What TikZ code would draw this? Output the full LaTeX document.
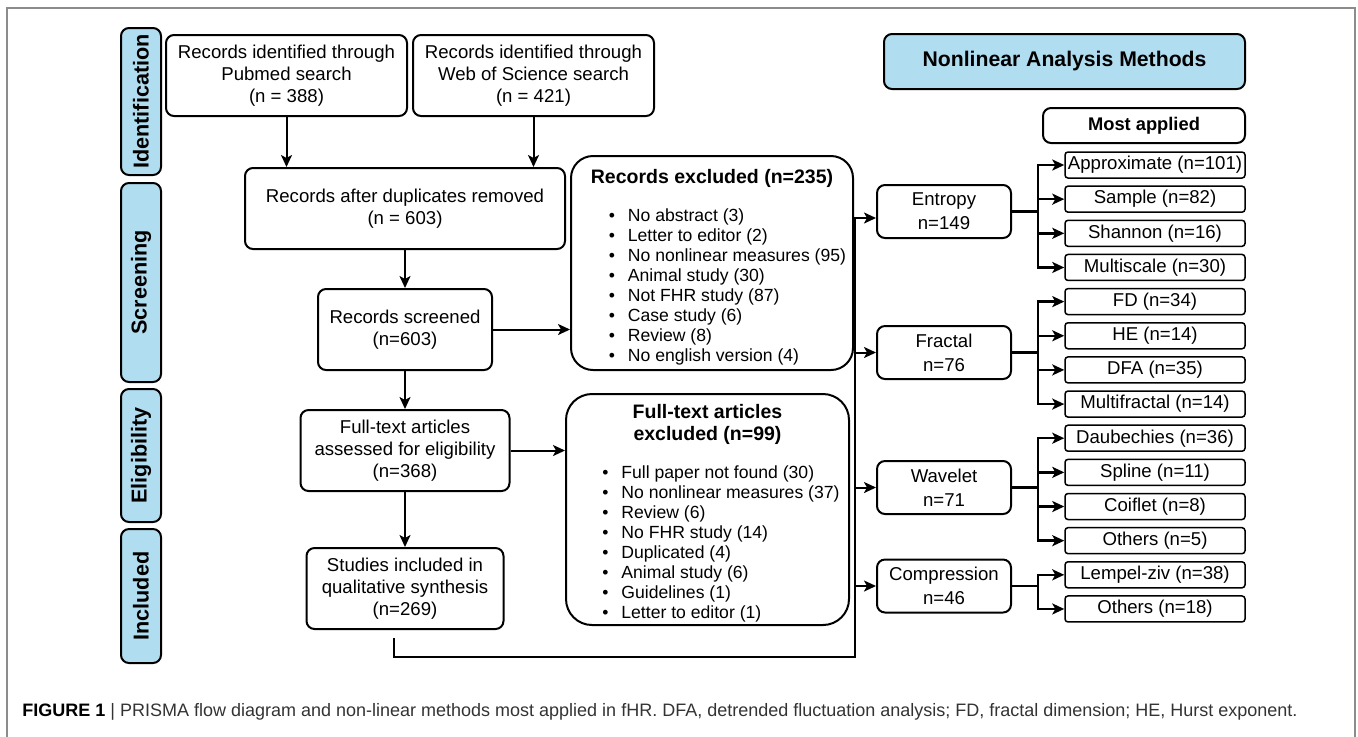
\documentclass[tikz,border=0pt]{standalone}
\usepackage{fontspec}
\setmainfont{Liberation Sans}
\usepackage{tikz}
\usetikzlibrary{arrows.meta,positioning}
\definecolor{phaseblue}{HTML}{B1DDF0}
\tikzstyle{phase}=[draw, fill=phaseblue, line width=1pt, rounded corners=4pt,
  rotate=90, minimum height=20pt, inner sep=0pt,
  font=\fontsize{10.8}{12}\selectfont\bfseries]
\tikzstyle{record}=[draw, line width=1pt, rounded corners=4pt, align=center,
  minimum height=40.5pt, inner sep=0pt, font=\fontsize{9.3}{11}\selectfont]
\tikzstyle{excluded}=[draw, line width=1pt, rounded corners=11pt, align=center,
  inner sep=0pt, font=\fontsize{9.75}{11}\selectfont]
\tikzstyle{method}=[record, minimum width=67pt, minimum height=26.5pt,
  font=\fontsize{9.3}{12}\selectfont]
\tikzstyle{variant}=[draw, line width=0.75pt, rounded corners=1.5pt,
  minimum width=90pt, minimum height=13pt, inner sep=0pt,
  font=\fontsize{9.3}{11}\selectfont]
\tikzstyle{header}=[draw, line width=1pt, rounded corners=4pt, inner sep=0pt]
\tikzstyle{line}=[draw, line width=1pt, -{Stealth[length=6pt,width=5.5pt,inset=1.5pt]}]
\tikzstyle{bus}=[draw, line width=1.25pt]
\tikzstyle{branch}=[bus, -{Stealth[length=6pt,width=5.5pt,inset=1.5pt]}]
\newcommand{\recbox}[3]{node (p#1)[record, minimum width=#2]{#3}}
\newcommand{\methbox}[2]{node (m#1)[method]{#2}}
\newcommand{\varbox}[2]{node (s#1)[variant]{#2}}
\newcommand{\bulit}{\textbullet\hspace{6.4pt}}
\newcommand{\bulfont}{\fontsize{8.8}{10}\selectfont}

\begin{document}
\begin{tikzpicture}[x=0.5pt,y=-0.5pt]
	\useasboundingbox (0,0) rectangle (1358,736);
	\draw[black!45, line width=0.75pt] (7,760) -- (7,8) -- (1355,8) -- (1355,760);

	% phases on the left
	\path (141,101.5) node (t1)[phase, minimum width=73.5pt]{Identification};
	\path (141,282.5) node (t2)[phase, minimum width=99.5pt]{Screening};
	\path (141,455.5) node (t3)[phase, minimum width=66.5pt]{Eligibility};
	\path (141,596) node (t4)[phase, minimum width=67pt]{Included};

	% PRISMA flow
	\path (286.5,75.5) \recbox{1}{120.5pt}{Records identified through\\Pubmed search\\(n = 388)};
	\path (p1.east)+(125.5,0) \recbox{2}{120.5pt}{Records identified through\\Web of Science search\\(n = 421)};
	\path (405,208.5) \recbox{3}{160pt}{Records after duplicates removed\\(n = 603)};
	\path (p3.south)+(0,79.5) \recbox{4}{87pt}{Records screened\\(n=603)};
	\path (p4.south)+(0,79.5) \recbox{5}{104.5pt}{Full-text articles\\assessed for eligibility\\(n=368)};
	\path (p5.south)+(0,96.5) \recbox{6}{98.5pt}{Studies included in\\qualitative synthesis\\(n=269)};

	\path (p4.east)+(219,-66.5) node (e1)[excluded, minimum width=141pt, minimum height=107pt]{%
		\rule{0pt}{12pt}\textbf{Records excluded (n=235)}\\[8pt]
		\hspace*{15.5pt}{\bulfont\begin{tabular}[t]{@{}l@{}}
			\bulit No abstract (3)\\
			\bulit Letter to editor (2)\\
			\bulit No nonlinear measures (95)\\
			\bulit Animal study (30)\\
			\bulit Not FHR study (87)\\
			\bulit Case study (6)\\
			\bulit Review (8)\\
			\bulit No english version (4)
		\end{tabular}}};
	\path (p5.east)+(197,59) node (e2)[excluded, rounded corners=13pt, minimum width=141.5pt, minimum height=115.5pt]{%
		\rule{0pt}{12pt}\textbf{Full-text articles}\\\textbf{excluded (n=99)}\\[8pt]
		\hspace*{13.5pt}{\bulfont\begin{tabular}[t]{@{}l@{}}
			\bulit Full paper not found (30)\\
			\bulit No nonlinear measures (37)\\
			\bulit Review (6)\\
			\bulit No FHR study (14)\\
			\bulit Duplicated (4)\\
			\bulit Animal study (6)\\
			\bulit Guidelines (1)\\
			\bulit Letter to editor (1)
		\end{tabular}}};

	% nonlinear methods
	\path (1064.5,61.5) node (nl)[header, fill=phaseblue, minimum width=180.5pt, minimum height=27.5pt,
		font=\fontsize{10.6}{12}\selectfont\bfseries]{Nonlinear Analysis Methods};
	\path (1144,125.5) node (ma)[header, minimum width=101pt, minimum height=17.5pt,
		font=\fontsize{9.15}{11}\selectfont\bfseries]{Most applied};

	\path (944,211.5) \methbox{1}{Entropy\\n=149};
	\path (m1.south)+(0,113.5) \methbox{2}{Fractal\\n=76};
	\path (m2.south)+(0,107.5) \methbox{3}{Wavelet\\n=71};
	\path (m3.south)+(0,71) \methbox{4}{Compression\\n=46};

	\path (1155,165) \varbox{1}{Approximate (n=101)};
	\path (s1.south)+(0,20.4) \varbox{2}{Sample (n=82)};
	\path (s2.south)+(0,20.4) \varbox{3}{Shannon (n=16)};
	\path (s3.south)+(0,20.4) \varbox{4}{Multiscale (n=30)};
	\path (s4.south)+(0,20.4) \varbox{5}{FD (n=34)};
	\path (s5.south)+(0,20.4) \varbox{6}{HE (n=14)};
	\path (s6.south)+(0,20.4) \varbox{7}{DFA (n=35)};
	\path (s7.south)+(0,20.4) \varbox{8}{Multifractal (n=14)};
	\path (s8.south)+(0,20.4) \varbox{9}{Daubechies (n=36)};
	\path (s9.south)+(0,20.4) \varbox{10}{Spline (n=11)};
	\path (s10.south)+(0,20.4) \varbox{11}{Coiflet (n=8)};
	\path (s11.south)+(0,20.4) \varbox{12}{Others (n=5)};
	\path (s12.south)+(0,20.4) \varbox{13}{Lempel-ziv (n=38)};
	\path (s13.south)+(0,20.4) \varbox{14}{Others (n=18)};

	\node (cap)[anchor=west, inner sep=0pt, text=black!80, font=\fontsize{9}{10.8}\selectfont] at (22,712)
		{\textbf{\color{black}FIGURE 1} | PRISMA flow diagram and non-linear methods most applied in fHR. DFA, detrended fluctuation analysis; FD, fractal dimension; HE, Hurst exponent.};

	% arrows of the flow
	\path [line] (p1.south) -- (p1.south |- p3.north);
	\path [line] (p2.south) -- (p2.south |- p3.north);
	\path [line] (p3.south) -- (p4.north);
	\path [line] (p4.south) -- (p5.north);
	\path [line] (p5.south) -- (p6.north);
	\path [line] (p4.east) -- (p4.east -| e1.west);
	\path [line] (p5.east) -- (p5.east -| e2.west);

	\coordinate (b1) at (855,657);
	\path [line] ([xshift=-5.5pt,yshift=-4pt]p6.south) |- (b1) |- ([yshift=-3.25pt]m1.west);
	\path [line] (b1) |- (m2.west);
	\path [line] (b1) |- (m3.west);
	\path [line] (b1) |- (m4.west);

	% branches to the most applied ones
	\path [bus] (m1.east) -- ++(26,0) coordinate (c1);
	\path [bus] (m2.east) -- ++(26,0) coordinate (c2);
	\path [bus] (m3.east) -- ++(26,0) coordinate (c3);
	\path [bus] (m4.east) -- ++(26,0) coordinate (c4);
	\path [branch] (c1) |- (s1.west);
	\path [branch] (c1) |- (s2.west);
	\path [branch] (c1) |- (s3.west);
	\path [branch] (c1) |- (s4.west);
	\path [branch] (c2) |- (s5.west);
	\path [branch] (c2) |- (s6.west);
	\path [branch] (c2) |- (s7.west);
	\path [branch] (c2) |- (s8.west);
	\path [branch] (c3) |- (s9.west);
	\path [branch] (c3) |- (s10.west);
	\path [branch] (c3) |- (s11.west);
	\path [branch] (c3) |- (s12.west);
	\path [branch] (c4) |- (s13.west);
	\path [branch] (c4) |- (s14.west);
\end{tikzpicture}
\end{document}
